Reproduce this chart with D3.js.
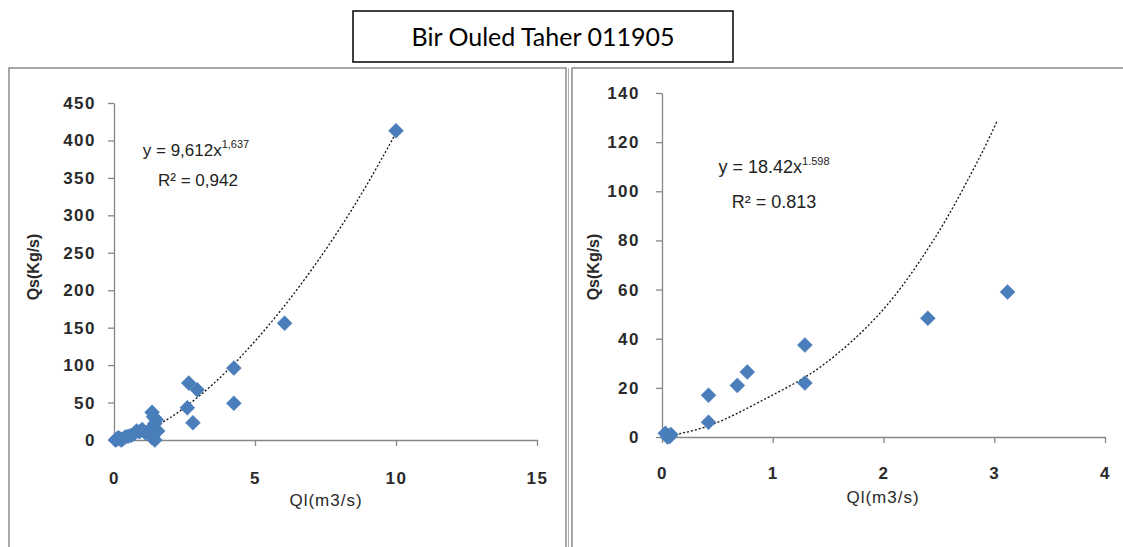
<!DOCTYPE html>
<html><head><meta charset="utf-8">
<script src="https://cdn.jsdelivr.net/npm/d3@7/dist/d3.min.js"></script>
<style>
body{margin:0;background:#fff;}
svg{display:block;}
</style></head>
<body>
<svg id="c" width="1123" height="547"></svg>
<script>
// ---- data ----
const title = "Bir Ouled Taher 011905";

// Left panel
const leftXTicks = [0, 5, 10, 15];
const leftYTicks = [0, 50, 100, 150, 200, 250, 300, 350, 400, 450];
const leftQl = [0.05,0.1,0.15,0.2,0.25,0.3,0.4,0.5,0.6,0.7,0.8,0.9,1.0,1.1,
                1.3,1.35,1.35,1.4,1.4,1.45,1.45,1.5,1.55,
                2.6,2.65,2.8,2.95,4.25,4.25,6.05,10.0];
const leftQs = [0,1,3,2,0,1,4,5,6,8,12,11,14,10,
                15,37,3,31,8,22,0,27,12,
                43,76,23,67,96,49,156,413];
const leftFitX = [0.45,1,2,3,4,5,6,7,8,9,10];
const leftFitY = [2.7,9.6,30,58,92,132,177,227,282,343,410];
const leftEq = ["y = 9,612x", "1,637"];
const leftR2 = "R² = 0,942";

// Right panel
const rightXTicks = [0, 1, 2, 3, 4];
const rightYTicks = [0, 20, 40, 60, 80, 100, 120, 140];
const rightQl = [0.03,0.05,0.06,0.07,0.08,0.42,0.42,0.68,0.77,1.29,1.29,2.40,3.12];
const rightQs = [1.5,0,0.5,0.2,1,17,6,21,26.5,37.4,22,48.3,59];
const rightFitX = [0.05,0.42,0.91,1.43,1.97,2.45,2.87,3.03];
const rightFitY = [0.3,4.5,15,28.5,50.5,80,114,129];
const rightEq = ["y = 18.42x", "1.598"];
const rightR2 = "R² = 0.813";

const xTitle = "Ql(m3/s)";
const yTitle = "Qs(Kg/s)";

// ---- drawing ----
const svg = d3.select("#c");
const FONT = "'Liberation Sans', Arial, sans-serif";
const AX = "#868686";
const BLUE = "#4A7EBB";

// frames
svg.append("rect").attr("x",9).attr("y",68).attr("width",557).attr("height",500)
  .attr("fill","none").attr("stroke","#8a8a8a").attr("stroke-width",1.5);
svg.append("rect").attr("x",572).attr("y",68).attr("width",560).attr("height",500)
  .attr("fill","none").attr("stroke","#8a8a8a").attr("stroke-width",1.5);
svg.append("line").attr("x1",568.5).attr("x2",568.5).attr("y1",68).attr("y2",547)
  .attr("stroke","#b0b0b0").attr("stroke-width",1);

// title box
svg.append("rect").attr("x",353).attr("y",11).attr("width",380).attr("height",51)
  .attr("fill","#fff").attr("stroke","#000").attr("stroke-width",1.5);
svg.append("text").attr("x",543).attr("y",46).attr("text-anchor","middle")
  .attr("font-family","Lato, 'Open Sans', sans-serif").attr("font-size",25)
  .attr("fill","#000").text(title);

const diamond = r => `M0,${-r}L${r},0L0,${r}L${-r},0Z`;

function panel(o) {
  const x = d3.scaleLinear().domain(o.xDomain).range(o.xRange);
  const y = d3.scaleLinear().domain(o.yDomain).range(o.yRange);
  const g = svg.append("g");
  const fmt = d3.format("d");

  const ya = g.append("g").attr("transform",`translate(${o.xRange[0]},0)`)
    .call(d3.axisLeft(y).tickValues(o.yTicks).tickFormat(fmt).tickSize(6).tickSizeOuter(0).tickPadding(o.yPad));
  const xa = g.append("g").attr("transform",`translate(0,${o.yRange[0]})`)
    .call(d3.axisBottom(x).tickValues(o.xTicks).tickFormat(fmt).tickSize(6).tickSizeOuter(0).tickPadding(o.xPad));
  [ya, xa].forEach(a => {
    a.select(".domain").attr("stroke",AX).attr("stroke-width",1.3);
    a.selectAll(".tick line").attr("stroke",AX).attr("stroke-width",1.3);
    a.selectAll(".tick text").attr("font-family",FONT).attr("font-size",17)
      .attr("font-weight","bold").attr("fill","#2a2a2a").attr("letter-spacing",1.5);
  });

  // trend line
  const pts = o.fitX.map((v,i)=>[v,o.fitY[i]]);
  g.append("path").datum(pts)
    .attr("d", d3.line().x(d=>x(d[0])).y(d=>y(d[1])).curve(d3.curveCatmullRom))
    .attr("fill","none").attr("stroke","#111").attr("stroke-width",1.3)
    .attr("stroke-dasharray","2,2");

  // points
  g.selectAll("path.pt").data(o.px.map((v,i)=>[v,o.py[i]])).enter()
    .append("path").attr("class","pt")
    .attr("transform",d=>`translate(${x(d[0])},${y(d[1])})`)
    .attr("d", diamond(7.5)).attr("fill",BLUE).attr("stroke",BLUE).attr("stroke-width",0.5);

  // axis titles
  g.append("text").attr("transform",`translate(${o.yTitlePos[0]},${o.yTitlePos[1]}) rotate(-90)`)
    .attr("text-anchor","middle").attr("dy","0.35em")
    .attr("font-family",FONT).attr("font-size",16).attr("font-weight","bold").attr("fill","#2a2a2a").text(yTitle);
  g.append("text").attr("x",o.xTitlePos[0]).attr("y",o.xTitlePos[1])
    .attr("text-anchor","middle").attr("dy","0.35em")
    .attr("font-family",FONT).attr("font-size",17).attr("letter-spacing",1).attr("fill","#2a2a2a").text(xTitle);

  // equation
  const t = g.append("text").attr("x",o.eqPos[0]).attr("y",o.eqPos[1])
    .attr("text-anchor","middle").attr("font-family",FONT).attr("font-size",o.eqSize).attr("fill","#222");
  t.append("tspan").text(o.eq[0]);
  t.append("tspan").attr("font-size",11).attr("dy",-8).text(o.eq[1]);
  g.append("text").attr("x",o.r2Pos[0]).attr("y",o.r2Pos[1])
    .attr("text-anchor","middle").attr("font-family",FONT).attr("font-size",o.eqSize).attr("fill","#222").text(o.r2);
}

panel({
  xDomain:[0,15], xRange:[114,537], yDomain:[0,450], yRange:[440,103],
  xTicks:leftXTicks, yTicks:leftYTicks, yPad:12, xPad:26,
  px:leftQl, py:leftQs, fitX:leftFitX, fitY:leftFitY,
  yTitlePos:[33,267], xTitlePos:[326,500],
  eq:leftEq, eqPos:[196,156], r2:leftR2, r2Pos:[198,186], eqSize:17
});
panel({
  xDomain:[0,4], xRange:[662,1105], yDomain:[0,140], yRange:[437,93],
  xTicks:rightXTicks, yTicks:rightYTicks, yPad:16, xPad:24,
  px:rightQl, py:rightQs, fitX:rightFitX, fitY:rightFitY,
  yTitlePos:[593,267], xTitlePos:[883,497],
  eq:rightEq, eqPos:[774,173], r2:rightR2, r2Pos:[774,208], eqSize:18
});
</script>
</body></html>
